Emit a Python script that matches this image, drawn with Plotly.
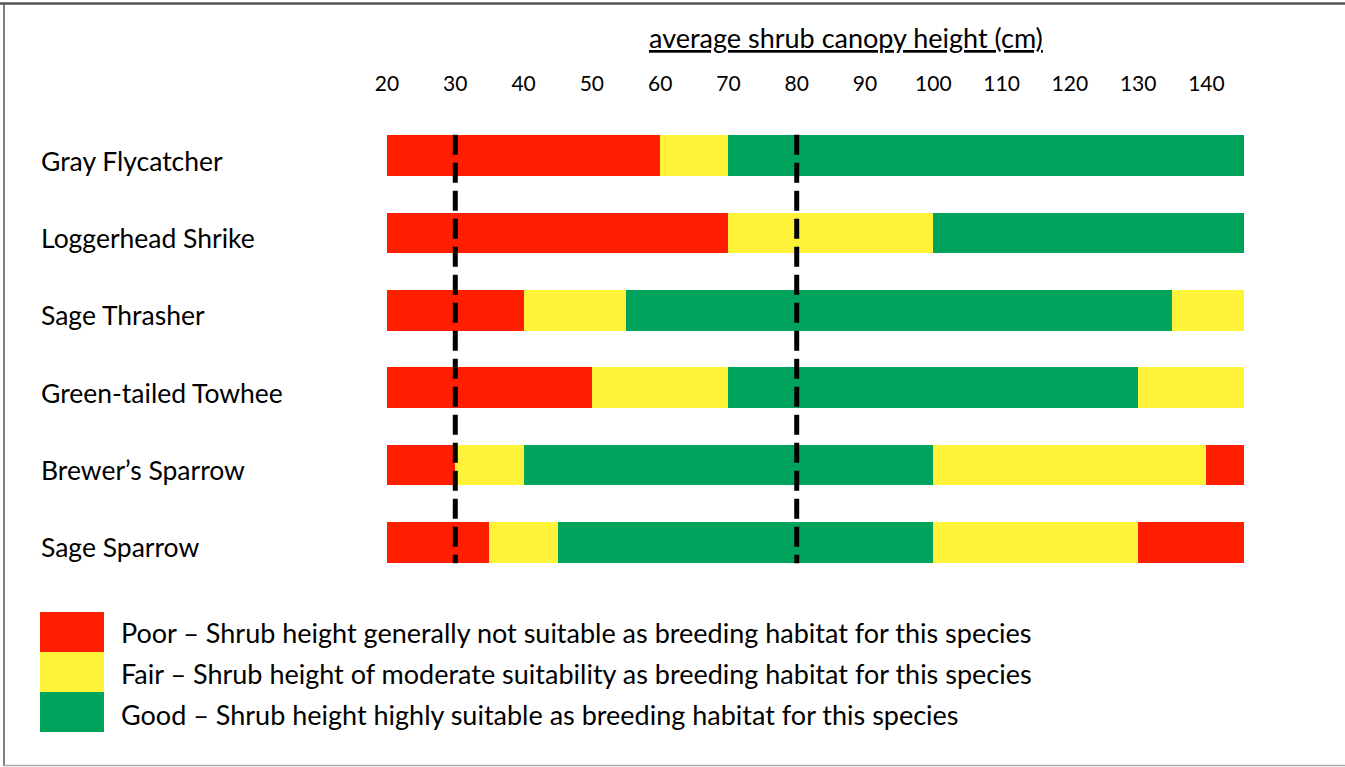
import plotly.graph_objects as go

species = ["Gray Flycatcher", "Loggerhead Shrike", "Sage Thrasher",
           "Green-tailed Towhee", "Brewer\u2019s Sparrow", "Sage Sparrow"]

# segment boundaries (cm) and suitability class of each segment
gray_flycatcher_edges = [20, 60, 70, 145.5]
gray_flycatcher_class = ["Poor", "Fair", "Good"]
loggerhead_shrike_edges = [20, 70, 100, 145.5]
loggerhead_shrike_class = ["Poor", "Fair", "Good"]
sage_thrasher_edges = [20, 40, 55, 135, 145.5]
sage_thrasher_class = ["Poor", "Fair", "Good", "Fair"]
towhee_edges = [20, 50, 70, 130, 145.5]
towhee_class = ["Poor", "Fair", "Good", "Fair"]
brewers_sparrow_edges = [20, 30, 40, 100, 140, 145.5]
brewers_sparrow_class = ["Poor", "Fair", "Good", "Fair", "Poor"]
sage_sparrow_edges = [20, 35, 45, 100, 130, 145.5]
sage_sparrow_class = ["Poor", "Fair", "Good", "Fair", "Poor"]

edges = [gray_flycatcher_edges, loggerhead_shrike_edges, sage_thrasher_edges,
         towhee_edges, brewers_sparrow_edges, sage_sparrow_edges]
classes = [gray_flycatcher_class, loggerhead_shrike_class, sage_thrasher_class,
           towhee_class, brewers_sparrow_class, sage_sparrow_class]

reference_lines = [30, 80]
tick_values = [20, 30, 40, 50, 60, 70, 80, 90, 100, 110, 120, 130, 140]

legend_classes = ["Poor", "Fair", "Good"]
legend_texts = [
    "Poor \u2013 Shrub height generally not suitable as breeding habitat for this species",
    "Fair \u2013 Shrub height of moderate suitability as breeding habitat for this species",
    "Good \u2013 Shrub height highly suitable as breeding habitat for this species",
]

colors = {"Poor": "#FF1E00", "Fair": "#FFF33A", "Good": "#00A35C"}
FONT = "Lato"

W, H = 1345, 767
L, R, T, B = 387, 1244, 117, 581


def px2x(p):
    return (p - L) / (R - L)


def py2y(p):
    return (B - p) / (B - T)


fig = go.Figure()
for sp, ed, cl in zip(species, edges, classes):
    for i, c in enumerate(cl):
        fig.add_trace(go.Bar(
            y=[sp], x=[ed[i + 1] - ed[i]], base=[ed[i]], orientation="h",
            marker=dict(color=colors[c], line=dict(width=0)),
            width=0.53, showlegend=False, hoverinfo="skip"))

shapes = []
for v in reference_lines:
    shapes.append(dict(type="line", xref="x", yref="y", x0=v, x1=v,
                       y0=-0.27, y1=5.27,
                       line=dict(color="black", width=5, dash="20px,8px"),
                       layer="above"))

# legend swatches
for i, c in enumerate(legend_classes):
    shapes.append(dict(type="rect", xref="paper", yref="paper",
                       x0=px2x(40), x1=px2x(104),
                       y0=py2y(612 + 40 * i), y1=py2y(652 + 40 * i),
                       fillcolor=colors[c], line=dict(width=0)))

# outer frame (top, left, bottom)
shapes.append(dict(type="line", xref="paper", yref="paper",
                   x0=px2x(0), x1=px2x(1345), y0=py2y(3.5), y1=py2y(3.5),
                   line=dict(color="#555555", width=2.5)))
shapes.append(dict(type="line", xref="paper", yref="paper",
                   x0=px2x(4), x1=px2x(4), y0=py2y(3), y1=py2y(766),
                   line=dict(color="#555555", width=1.5)))
shapes.append(dict(type="line", xref="paper", yref="paper",
                   x0=px2x(4), x1=px2x(1345), y0=py2y(765.5), y1=py2y(765.5),
                   line=dict(color="#aaaaaa", width=1.5)))

annotations = []
for sp in species:
    annotations.append(dict(x=px2x(39), xref="paper", y=sp, yref="y",
                            text=sp, showarrow=False, xanchor="left",
                            yanchor="middle", yshift=-5,
                            font=dict(family=FONT, size=26.5, color="black")))

for i, t in enumerate(legend_texts):
    annotations.append(dict(x=px2x(119), xref="paper", y=py2y(632 + 41 * i),
                            yref="paper", text=t, showarrow=False,
                            xanchor="left", yanchor="middle",
                            font=dict(family=FONT, size=27, color="black")))

annotations.append(dict(x=px2x(846), xref="paper", y=py2y(38), yref="paper",
                        text="<u>average shrub canopy height (cm)</u>",
                        showarrow=False, xanchor="center", yanchor="middle",
                        font=dict(family=FONT, size=27, color="black")))

fig.update_layout(
    width=W, height=H,
    margin=dict(l=L, r=W - R, t=T, b=H - B),
    paper_bgcolor="white", plot_bgcolor="white",
    barmode="overlay", bargap=0,
    shapes=shapes, annotations=annotations,
    xaxis=dict(range=[20, 145.5], side="top", tickvals=tick_values,
               showgrid=False, zeroline=False, showline=False, ticks="",
               ticklabelstandoff=21,
               tickfont=dict(family=FONT, size=21, color="black")),
    yaxis=dict(categoryorder="array", categoryarray=species,
               autorange="reversed", range=[5.5, -0.5], showgrid=False,
               zeroline=False, showline=False, showticklabels=False, ticks=""),
)

fig.write_html("out.html", config={"displayModeBar": False},
               post_script="document.body.style.margin='0px';"
                           "document.body.style.overflow='hidden';")
